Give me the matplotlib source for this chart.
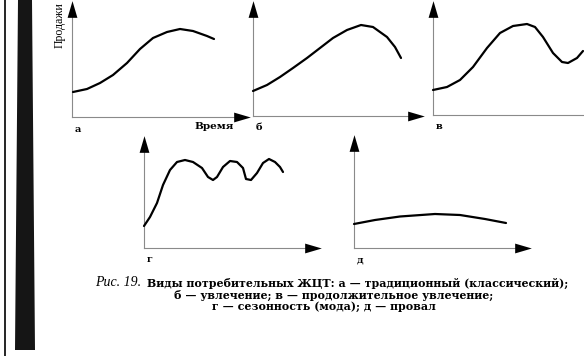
import matplotlib
matplotlib.use("Agg")
import matplotlib.pyplot as plt
from matplotlib.patches import Polygon
from matplotlib.lines import Line2D

W_FIG, H_FIG = 584, 356

# curves: (time, sales) in panel units
time_a = [1, 15, 28, 41, 55, 68, 81, 95, 108, 121, 135, 142]
sales_a = [25, 28, 34, 42, 54, 68, 79, 85, 88, 86, 81, 78]

time_b = [0, 14, 27, 40, 54, 67, 80, 94, 108, 120, 134, 142, 148]
sales_b = [25, 31, 39, 48, 58, 68, 78, 86, 91, 89, 79, 69, 58]

time_v = [0, 14, 27, 40, 54, 67, 80, 94, 102, 110, 120, 129, 135, 144, 150]
sales_v = [25, 28, 35, 48, 67, 82, 89, 91, 88, 78, 62, 53, 52, 57, 64]

time_g = [0, 6, 13, 19, 26, 33, 41, 49, 58, 64, 69, 73, 79, 86, 93, 99,
          102, 107, 113, 119, 125, 131, 136, 139]
sales_g = [22, 31, 45, 63, 78, 86, 88, 86, 80, 71, 68, 71, 81, 87, 86, 80,
           69, 68, 75, 85, 89, 86, 81, 76]

time_d = [0, 21, 46, 81, 106, 131, 152]
sales_d = [24, 28, 31.5, 34, 33, 29, 25]

panel_letters = ["а", "б", "в", "г", "д"]

caption_head = "Рис. 19."
caption_lines = ["Виды потребительных ЖЦТ: а — традиционный (классический);",
                 "б — увлечение; в — продолжительное увлечение;",
                 "г — сезонность (мода); д — провал"]

# panel boxes in pixels: origin x, origin y, axis length x, axis length y
boxes = [(72, 117, 176, 114), (253, 116, 169, 113), (433, 115, 175, 112),
         (144, 248, 175, 110), (354, 248, 175, 111)]
curves = [(time_a, sales_a), (time_b, sales_b), (time_v, sales_v),
          (time_g, sales_g), (time_d, sales_d)]

SERIF = ["Liberation Serif", "DejaVu Serif"]
WIDE = ["DejaVu Serif"]

# long narrow arrow heads
head_right = [(-1.7, -1), (1.7, 0), (-1.7, 1)]
head_up = [(-1, -1.7), (0, 1.7), (1, -1.7)]


def fpos(x, y):
    return x / W_FIG, 1 - y / H_FIG


fig = plt.figure(figsize=(W_FIG / 100, H_FIG / 100), dpi=100)

# binding shadow of the scan
fig.add_artist(Line2D([5 / W_FIG] * 2, [0, 1], color="black", lw=1.2))
band = [fpos(18, 0), fpos(32, 0), fpos(35, 350), fpos(15, 350)]
fig.add_artist(Polygon(band, closed=True, color="#151515", lw=0))

for (x0, y0, w, h), (t, s), letter in zip(boxes, curves, panel_letters):
    ax = fig.add_axes([x0 / W_FIG, 1 - y0 / H_FIG, w / W_FIG, h / H_FIG])
    ax.set_xlim(0, w)
    ax.set_ylim(0, h)
    ax.axis("off")
    ax.plot([0, w - 6], [0, 0], color="#8a8a8a", lw=0.8, clip_on=False)
    ax.plot([0, 0], [0, h - 6], color="#8a8a8a", lw=0.8, clip_on=False)
    ax.plot(w - 6, 0, marker=head_right, ms=12, color="black", mew=0,
            clip_on=False)
    ax.plot(0, h - 6, marker=head_up, ms=12, color="black", mew=0,
            clip_on=False)
    ax.plot(t, s, color="black", lw=1.6, solid_capstyle="round", clip_on=False)
    fig.text(*fpos(x0 + 3, y0 + 12), letter, fontsize=7, fontweight="bold",
             family=WIDE, ha="left", va="center")

fig.text(*fpos(60, 25), "Продажи", rotation=90, fontsize=8.5, family=SERIF,
         ha="center", va="center")
fig.text(*fpos(214, 127), "Время", fontsize=7.5, fontweight="bold",
         family=WIDE, ha="center", va="center")

fig.text(*fpos(141, 283), caption_head, fontsize=10, style="italic",
         family=SERIF, ha="right", va="center")
fig.text(*fpos(147, 283), caption_lines[0], fontsize=7.9, fontweight="bold",
         family=WIDE, ha="left", va="center")
fig.text(*fpos(334, 295), caption_lines[1], fontsize=7.9, fontweight="bold",
         family=WIDE, ha="center", va="center")
fig.text(*fpos(324, 307), caption_lines[2], fontsize=7.9, fontweight="bold",
         family=WIDE, ha="center", va="center")

fig.savefig("out.png", dpi=100, facecolor="white")
